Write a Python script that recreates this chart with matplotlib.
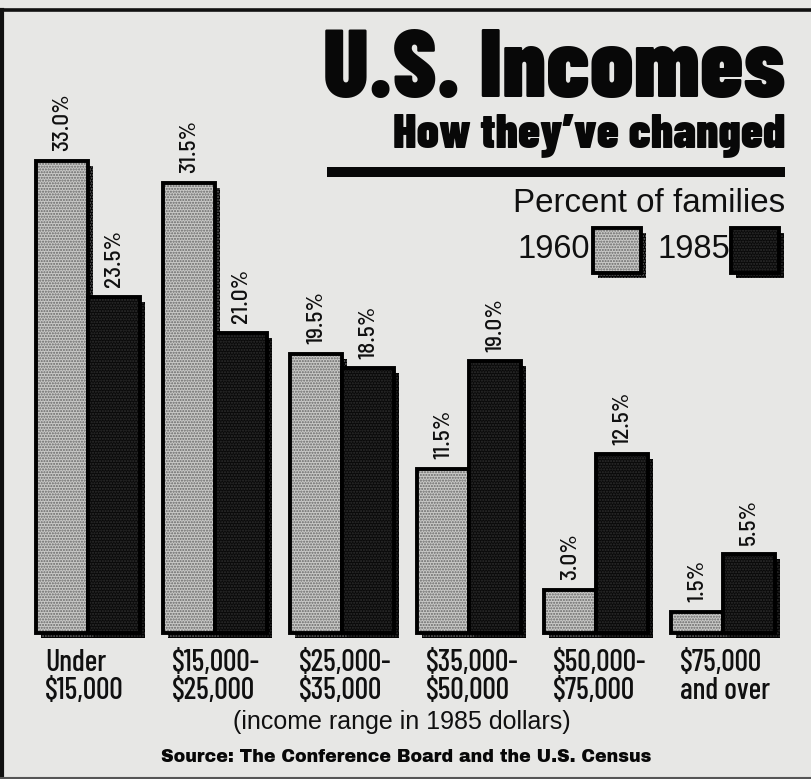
import matplotlib
matplotlib.use("Agg")
import matplotlib.pyplot as plt
import matplotlib.patheffects as pe
from matplotlib.patches import Rectangle
from matplotlib.lines import Line2D

# ---------------- data ----------------
categories = ["Under\n$15,000", "$15,000-\n$25,000", "$25,000-\n$35,000",
              "$35,000-\n$50,000", "$50,000-\n$75,000", "$75,000\nand over"]
pct_1960 = [33.0, 31.5, 19.5, 11.5, 3.0, 1.5]
pct_1985 = [23.5, 21.0, 18.5, 19.0, 12.5, 5.5]
series_names = ["1960", "1985"]

title = "U.S. Incomes"
subtitle = "How they\u2019ve changed"
measure = "Percent of families"
xnote = "(income range in 1985 dollars)"
source = "Source: The Conference Board and the U.S. Census"

# ---------------- fonts ----------------
COND = ["Barlow Condensed", "Liberation Sans", "DejaVu Sans"]
SEMI = ["Barlow Semi Condensed", "Barlow Condensed", "Liberation Sans", "DejaVu Sans"]
REG = ["Liberation Sans", "DejaVu Sans"]
HEAVY = ["Archivo Black", "Liberation Sans", "DejaVu Sans"]

W, H, DPI = 811, 779, 100
BG = "#e7e7e5"
INK = "#101010"
fig = plt.figure(figsize=(W / DPI, H / DPI), dpi=DPI)
fig.patch.set_facecolor(BG)
ax = fig.add_axes([0, 0, 1, 1])
ax.axis("off")

px_unit = 127.0      # px per category
x0_px = 88.0         # px of first group centre
base_px = 633.0      # px (from top) of baseline
px_pct = 14.3        # px per percent
ax.set_xlim(-x0_px / px_unit, (W - x0_px) / px_unit)
ax.set_ylim(-(H - base_px) / px_pct, base_px / px_pct)


def fx(px):
    return px / W


def fy(py):
    return 1 - py / H


def extent(t):
    fig.canvas.draw()
    return t.get_window_extent(renderer=fig.canvas.get_renderer())


def fit(t, target_w, axis="w"):
    e = extent(t)
    cur = e.width if axis == "w" else e.height
    t.set_fontsize(t.get_fontsize() * target_w / cur)


bw = 0.41
xs = list(range(len(categories)))
shadow = [pe.SimplePatchShadow(offset=(3.6, -3.6), shadow_rgbFace="black", alpha=1.0), pe.Normal()]

styles = {
    "1960": dict(face="#c9c9c7", hatchc="#666666"),
    "1985": dict(face="#0a0a0a", hatchc="#2e2e2e"),
}

value_texts = []
for k, (name, vals) in enumerate(zip(series_names, [pct_1960, pct_1985])):
    pos = [x + (k - 0.5) * bw for x in xs]
    st = styles[name]
    z = 2 + 2 * k
    fill = ax.bar(pos, vals, width=bw, color=st["face"], edgecolor=st["hatchc"],
                  linewidth=0, hatch="......", zorder=z)
    for p in fill:
        p.set_path_effects(shadow)
    ax.bar(pos, vals, width=bw, fill=False, edgecolor="black", linewidth=2.8,
           joinstyle="miter", zorder=z + 0.5)
    for xp, v in zip(pos, vals):
        t = ax.annotate(f"{v:.1f}%", (xp, v), xytext=(0, 7), textcoords="offset points",
                        rotation=90, ha="center", va="bottom", fontsize=20,
                        family=SEMI, fontweight="medium", color=INK, zorder=10)
        value_texts.append(t)

# size value labels so that "33.0%" spans ~58 px
e = extent(value_texts[0])
vs = value_texts[0].get_fontsize() * 58 / e.height
for t in value_texts:
    t.set_fontsize(vs)

# category labels
cat_texts = []
for x, lab in zip(xs, categories):
    t = ax.text(x - bw + 0.07, -16 / px_pct, lab, ha="left", va="top",
                fontsize=20, family=COND, fontweight="medium", color=INK, linespacing=1.0)
    cat_texts.append(t)
probe = fig.text(0, 0, "$15,000", fontsize=20, family=COND, fontweight="medium")
cs = 20 * 79 / extent(probe).width
probe.remove()
for t in cat_texts:
    t.set_fontsize(cs)

# ---------------- heading block ----------------
t1 = fig.text(fx(785), fy(97), title, ha="right", va="baseline", fontsize=80,
              fontweight="black", family=COND, color="#080808")
t2 = fig.text(fx(785), fy(147), subtitle, ha="right", va="baseline", fontsize=40,
              fontweight="black", family=COND, color="#080808")
fig.add_artist(Line2D([fx(327), fx(785)], [fy(172), fy(172)], transform=fig.transFigure,
                      color="#080808", linewidth=7.2, solid_capstyle="butt"))
t3 = fig.text(fx(785), fy(212), measure, ha="right", va="baseline", fontsize=23.5,
              family=REG, color=INK)

# legend
fig.text(fx(518), fy(258), series_names[0], ha="left", va="baseline", fontsize=23.5,
         family=REG, color=INK)
fig.text(fx(658), fy(258), series_names[1], ha="left", va="baseline", fontsize=23.5,
         family=REG, color=INK)
for (l, r_, st) in [(593, 641, styles["1960"]), (731, 779, styles["1985"])]:
    sw = Rectangle((fx(l), fy(273)), fx(r_ - l), (273 - 228) / H, transform=fig.transFigure,
                   facecolor=st["face"], edgecolor=st["hatchc"], linewidth=0, hatch="......")
    sw.set_path_effects(shadow)
    fig.add_artist(sw)
    fig.add_artist(Rectangle((fx(l), fy(273)), fx(r_ - l), (273 - 228) / H,
                             transform=fig.transFigure, fill=False, edgecolor="black",
                             linewidth=2.8))

fig.text(fx(402), fy(722), xnote, ha="center", va="center", fontsize=18,
         family=REG, color=INK)
t4 = fig.text(fx(406), fy(758), source, ha="center", va="center", fontsize=12,
              family=HEAVY, color="#080808")

fit(t1, 462)
fit(t2, 392)
fit(t3, 272)
fit(t4, 492)

# frame
fig.add_artist(Line2D([0, 1], [fy(10), fy(10)], transform=fig.transFigure,
                      color="#111111", linewidth=2.6))
fig.add_artist(Line2D([fx(2), fx(2)], [fy(10), 0], transform=fig.transFigure,
                      color="#111111", linewidth=3.0))
fig.add_artist(Line2D([0, 1], [fy(778), fy(778)], transform=fig.transFigure,
                      color="#555555", linewidth=1.5))

fig.savefig("out.png", dpi=DPI, facecolor=BG)
